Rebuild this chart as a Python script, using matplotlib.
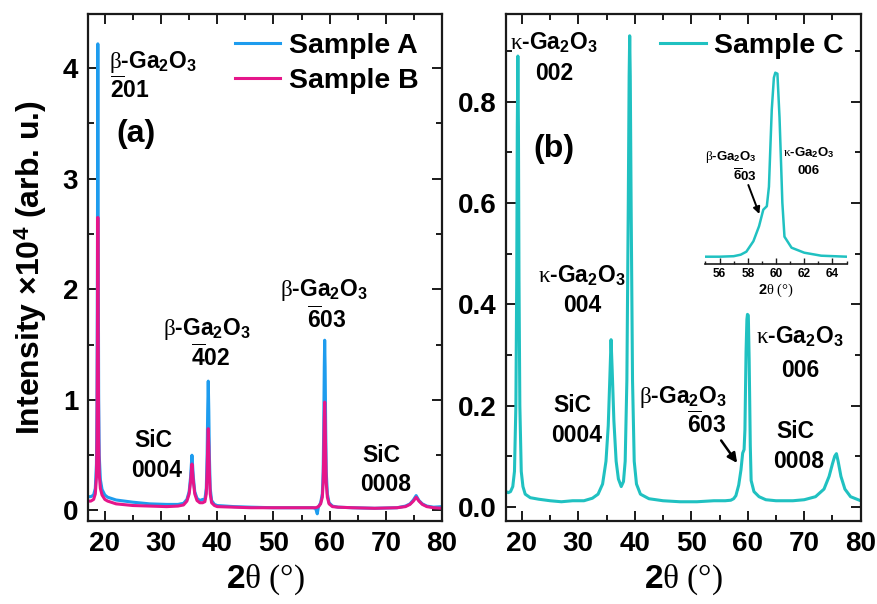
import matplotlib
matplotlib.use("Agg")
import matplotlib.pyplot as plt
from matplotlib.ticker import MultipleLocator, FormatStrFormatter

plt.rcParams['font.family'] = ['Liberation Sans', 'DejaVu Sans']
plt.rcParams['font.weight'] = 'bold'
plt.rcParams['mathtext.fontset'] = 'custom'
plt.rcParams['mathtext.rm'] = 'Liberation Serif:normal'
plt.rcParams['mathtext.it'] = 'Liberation Serif:italic:normal'
plt.rcParams['mathtext.bf'] = 'Liberation Sans:bold'
plt.rcParams['mathtext.sf'] = 'Liberation Sans:bold'

# ---------------- data ----------------
two_theta_ab = [17.0, 17.5, 18.0, 18.3, 18.5, 18.6, 18.68, 18.75, 18.82, 18.9,
                19.0, 19.2, 19.5, 20.0, 20.5, 22, 25, 28, 31, 33,
                34.0, 34.6, 35.0, 35.25, 35.5, 35.75, 36.0, 36.4, 36.9, 37.4,
                37.8, 38.05, 38.2, 38.3, 38.4, 38.5, 38.6, 38.75, 39.0, 39.5,
                40.0, 43, 46, 50, 54, 57.0, 57.5, 57.8, 58.0, 58.4,
                58.7, 58.85, 58.95, 59.05, 59.12, 59.2, 59.3, 59.4, 59.6, 59.9,
                60.5, 61.5, 64, 68, 72.0, 73.5, 74.3, 74.9, 75.4, 75.9,
                76.5, 77.3, 78.5, 80.0]
sample_a = [0.125, 0.125, 0.14, 0.2, 0.42, 0.95, 2.4, 4.22, 2.4, 1.0,
            0.5, 0.28, 0.19, 0.14, 0.12, 0.095, 0.075, 0.06, 0.055, 0.055,
            0.065, 0.1, 0.17, 0.3, 0.5, 0.3, 0.17, 0.11, 0.09, 0.1,
            0.1, 0.2, 0.5, 0.9, 1.17, 0.9, 0.5, 0.2, 0.09, 0.055,
            0.045, 0.035, 0.03, 0.025, 0.025, 0.025, 0.02, -0.03, 0.03, 0.07,
            0.15, 0.35, 0.75, 1.3, 1.54, 1.3, 0.75, 0.35, 0.15, 0.07,
            0.04, 0.03, 0.025, 0.02, 0.025, 0.04, 0.06, 0.095, 0.135, 0.09,
            0.06, 0.04, 0.03, 0.035]
sample_b = [0.085, 0.085, 0.1, 0.15, 0.3, 0.65, 1.55, 2.65, 1.55, 0.65,
            0.33, 0.2, 0.14, 0.1, 0.085, 0.06, 0.045, 0.04, 0.035, 0.04,
            0.05, 0.085, 0.15, 0.26, 0.42, 0.26, 0.15, 0.09, 0.07, 0.07,
            0.08, 0.15, 0.35, 0.58, 0.74, 0.58, 0.35, 0.15, 0.07, 0.045,
            0.035, 0.03, 0.025, 0.025, 0.025, 0.025, 0.025, 0.03, 0.035, 0.06,
            0.12, 0.25, 0.5, 0.82, 0.98, 0.82, 0.5, 0.25, 0.12, 0.06,
            0.035, 0.03, 0.025, 0.02, 0.025, 0.035, 0.055, 0.085, 0.12, 0.085,
            0.055, 0.035, 0.025, 0.02]

two_theta_c = [17.2, 17.6, 18.0, 18.4, 18.7, 18.95, 19.1, 19.2, 19.3, 19.4,
               19.5, 19.65, 19.9, 20.2, 20.6, 21.5, 23, 25, 27, 29,
               31, 32.5, 33.5, 34.3, 34.9, 35.3, 35.6, 35.8, 36.0, 36.3,
               36.7, 37.1, 37.6, 38.0, 38.3, 38.6, 38.85, 39.0, 39.1, 39.2,
               39.35, 39.6, 39.9, 40.3, 41, 42.5, 45, 48, 51, 54,
               55.0, 56, 57, 57.5, 57.9, 58.4, 58.8, 59.1, 59.35, 59.5,
               59.6, 59.7, 59.85, 59.95, 60.1, 60.25, 60.35, 60.45, 60.6, 61.1,
               62.0, 63.2, 65, 68, 70, 72, 73.5, 74.4, 75.0, 75.4,
               75.7, 76.0, 76.5, 77.2, 78.2, 80.0]
sample_c = [0.03, 0.028, 0.03, 0.04, 0.07, 0.2, 0.45, 0.75, 0.89, 0.75,
            0.45, 0.2, 0.07, 0.04, 0.025, 0.018, 0.015, 0.012, 0.01, 0.012,
            0.012, 0.017, 0.025, 0.045, 0.09, 0.16, 0.26, 0.33, 0.27, 0.17,
            0.09, 0.055, 0.04, 0.05, 0.09, 0.25, 0.6, 0.85, 0.93, 0.85,
            0.6, 0.25, 0.09, 0.045, 0.025, 0.016, 0.012, 0.01, 0.01, 0.012,
            0.012, 0.012, 0.013, 0.016, 0.022, 0.043, 0.073, 0.106, 0.113, 0.152,
            0.23, 0.306, 0.37, 0.38, 0.378, 0.29, 0.206, 0.12, 0.052, 0.03,
            0.02, 0.014, 0.012, 0.012, 0.014, 0.02, 0.035, 0.06, 0.085, 0.1,
            0.105, 0.09, 0.06, 0.035, 0.02, 0.012]

label_a = "Sample A"
label_b = "Sample B"
label_c = "Sample C"

color_a = '#1E9CEE'
color_b = '#E5168A'
color_c = '#20C1C1'
spine_col = '#1a1a1a'

BETA = r"$\mathrm{\beta}$-Ga$_\mathbf{2}$O$_\mathbf{3}$"
KAPPA = r"$\mathrm{\kappa}$-Ga$_\mathbf{2}$O$_\mathbf{3}$"
XLAB = r"$\mathbf{2}\mathrm{\theta\ (°)}$"

W, H = 878, 604
fig = plt.figure(figsize=(W / 100, H / 100), dpi=100)
axL = fig.add_axes([88 / W, 83 / H, 354 / W, 507 / H])
axR = fig.add_axes([506 / W, 83 / H, 355 / W, 507 / H])
axI = fig.add_axes([705.4 / W, (H - 264) / H, 141.2 / W, 204 / H])


def style(ax, ymaj, ymin, fmt):
    for s in ax.spines.values():
        s.set_linewidth(1.6)
        s.set_color(spine_col)
    ax.xaxis.set_major_locator(MultipleLocator(10))
    ax.xaxis.set_minor_locator(MultipleLocator(5))
    ax.yaxis.set_major_locator(MultipleLocator(ymaj))
    ax.yaxis.set_minor_locator(MultipleLocator(ymin))
    ax.yaxis.set_major_formatter(FormatStrFormatter(fmt))
    ax.tick_params(which='both', direction='in', top=True, right=True,
                   color=spine_col, width=1.4)
    ax.tick_params(which='major', length=7, labelsize=20, pad=7)
    ax.tick_params(which='minor', length=4)
    for lab in ax.get_xticklabels() + ax.get_yticklabels():
        lab.set_fontweight('bold')
    ax.set_xlabel(XLAB, fontsize=24, labelpad=4)


# ---------------- left panel ----------------
axL.plot(two_theta_ab, sample_a, color=color_a, lw=2.2, label=label_a)
axL.plot(two_theta_ab, sample_b, color=color_b, lw=2.2, label=label_b)
axL.set_xlim(17, 80)
axL.set_ylim(-0.095, 4.49)
style(axL, 1, 0.5, '%d')
axL.set_ylabel(r"Intensity ×10$^\mathbf{4}$ (arb. u.)", fontsize=23,
               fontweight='bold', labelpad=10)
axL.legend(loc='upper left', bbox_to_anchor=(0.415, 0.962), frameon=False,
           prop={'size': 20.5, 'weight': 'bold'}, handlelength=1.6,
           handletextpad=0.3, borderaxespad=0, borderpad=0, labelspacing=0.3)

ann = dict(fontsize=16.5, fontweight='bold')
axL.text(20.8, 4.005, BETA, ha='left', va='baseline', **ann)
axL.text(21.0, 3.733, r"$\overline{\mathbf{2}}$01", ha='left', va='baseline', **ann)
axL.text(22.05, 3.33, "(a)", ha='left', va='baseline', fontsize=23, fontweight='bold')
axL.text(38.2, 1.588, BETA, ha='center', va='baseline', **ann)
axL.text(38.84, 1.308, r"$\overline{\mathbf{4}}$02", ha='center', va='baseline', **ann)
axL.text(59.0, 1.941, BETA, ha='center', va='baseline', **ann)
axL.text(59.4, 1.652, r"$\overline{\mathbf{6}}$03", ha='center', va='baseline', **ann)
axL.text(28.66, 0.577, "SiC", ha='center', va='baseline', **ann)
axL.text(29.29, 0.306, "0004", ha='center', va='baseline', **ann)
axL.text(69.2, 0.442, "SiC", ha='center', va='baseline', **ann)
axL.text(69.9, 0.179, "0008", ha='center', va='baseline', **ann)

# ---------------- right panel ----------------
axR.plot(two_theta_c, sample_c, color=color_c, lw=2.2, label=label_c)
axR.set_xlim(17.2, 80.05)
axR.set_ylim(-0.028, 0.973)
style(axR, 0.2, 0.1, '%.1f')
axR.legend(loc='upper left', bbox_to_anchor=(0.434, 0.962), frameon=False,
           prop={'size': 20.5, 'weight': 'bold'}, handlelength=1.6,
           handletextpad=0.3, borderaxespad=0, borderpad=0)

axR.text(17.94, 0.902, KAPPA, ha='left', va='baseline', **ann)
axR.text(22.35, 0.843, "002", ha='left', va='baseline', **ann)
axR.text(21.99, 0.691, "(b)", ha='left', va='baseline', fontsize=23, fontweight='bold')
axR.text(30.55, 0.4417, KAPPA, ha='center', va='baseline', **ann)
axR.text(30.73, 0.385, "004", ha='center', va='baseline', **ann)
axR.text(28.96, 0.187, "SiC", ha='center', va='baseline', **ann)
axR.text(29.67, 0.128, "0004", ha='center', va='baseline', **ann)
axR.text(56.23, 0.2045, BETA, ha='right', va='baseline', **ann)
axR.text(56.23, 0.145, r"$\overline{\mathbf{6}}$03", ha='right', va='baseline', **ann)
axR.text(69.29, 0.323, KAPPA, ha='center', va='baseline', **ann)
axR.text(69.29, 0.2565, "006", ha='center', va='baseline', **ann)
axR.text(68.49, 0.135, "SiC", ha='center', va='baseline', **ann)
axR.text(69.02, 0.076, "0008", ha='center', va='baseline', **ann)
axR.annotate("", xy=(58.12, 0.0866), xytext=(55.29, 0.131),
             arrowprops=dict(arrowstyle='-|>', color='black', lw=1.8,
                             mutation_scale=14, shrinkA=0, shrinkB=0))

# ---------------- inset ----------------
axI.plot(two_theta_c, sample_c, color=color_c, lw=1.8)
axI.set_xlim(55, 65)
axI.set_ylim(-0.0026, 0.4054)
axI.patch.set_alpha(0)
for k in ('left', 'right', 'top'):
    axI.spines[k].set_visible(False)
axI.spines['bottom'].set_linewidth(1.2)
axI.spines['bottom'].set_color(spine_col)
axI.set_yticks([])
axI.xaxis.set_major_locator(MultipleLocator(2))
axI.xaxis.set_minor_locator(MultipleLocator(1))
axI.tick_params(which='both', direction='in', color=spine_col, width=1.0)
axI.tick_params(which='major', length=4, labelsize=8.6, pad=3)
axI.tick_params(which='minor', length=2.5)
for lab in axI.get_xticklabels():
    lab.set_fontweight('bold')
axI.set_xlabel(XLAB, fontsize=10.5, labelpad=1)
small = dict(fontsize=9.5, fontweight='bold')
axI.text(58.65, 0.2054, BETA, ha='right', va='baseline', **small)
axI.text(58.65, 0.164, r"$\overline{\mathbf{6}}$03", ha='right', va='baseline', **small)
axI.text(62.3, 0.212, KAPPA, ha='center', va='baseline', **small)
axI.text(62.33, 0.177, "006", ha='center', va='baseline', **small)
axI.annotate("", xy=(58.82, 0.0974), xytext=(58.04, 0.1554),
             arrowprops=dict(arrowstyle='-|>', color='black', lw=1.4,
                             mutation_scale=10, shrinkA=0, shrinkB=0))

fig.savefig('out.png', dpi=100)
